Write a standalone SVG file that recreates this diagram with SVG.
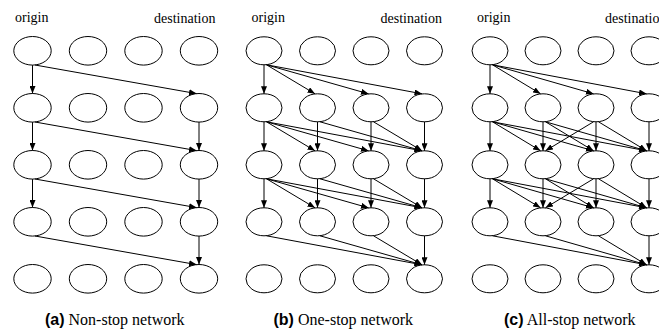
<svg xmlns="http://www.w3.org/2000/svg" width="659" height="329" viewBox="0 0 659 329">
  <style>
    .n ellipse { fill: #fff; stroke: #000; stroke-width: 1; }
    #edges line { stroke: #000; stroke-width: 1; fill: none; marker-end: url(#arr); }
    .lbl { font-family: "Liberation Serif", "Times New Roman", serif; font-size: 14px; fill: #000; }
    .cap { font-family: "Liberation Serif", "Times New Roman", serif; font-size: 16px; fill: #000; }
    .cap .tag { font-family: "Liberation Sans", Arial, sans-serif; font-weight: bold; }
  </style>
  <defs>
    <marker id="arr" markerUnits="userSpaceOnUse" viewBox="0 0 7.5 6" markerWidth="7.5" markerHeight="6" refX="7.5" refY="3" orient="auto">
      <path d="M0,0 L7.5,3 L0,6 z" fill="#000"/>
    </marker>
  </defs>

  <rect width="659" height="329" fill="#fff"/>

  <!-- column headings -->
  <text class="lbl" x="15" y="22">origin</text>
  <text class="lbl" x="154" y="23">destination</text>
  <text class="lbl" x="251.5" y="22">origin</text>
  <text class="lbl" x="380.5" y="23">destination</text>
  <text class="lbl" x="477" y="22">origin</text>
  <text class="lbl" x="605" y="23">destination</text>

  <!-- (a) non-stop: 5 time rows x 4 stations -->
  <g id="a-nodes">
    <g id="a-r0c0" class="n"><ellipse cx="32.5" cy="50.8" rx="18.7" ry="14.3"/></g>
    <g id="a-r0c1" class="n"><ellipse cx="88" cy="50.8" rx="18.7" ry="14.3"/></g>
    <g id="a-r0c2" class="n"><ellipse cx="143.5" cy="50.8" rx="18.7" ry="14.3"/></g>
    <g id="a-r0c3" class="n"><ellipse cx="199" cy="50.8" rx="18.7" ry="14.3"/></g>
    <g id="a-r1c0" class="n"><ellipse cx="32.5" cy="107.8" rx="18.7" ry="14.3"/></g>
    <g id="a-r1c1" class="n"><ellipse cx="88" cy="107.8" rx="18.7" ry="14.3"/></g>
    <g id="a-r1c2" class="n"><ellipse cx="143.5" cy="107.8" rx="18.7" ry="14.3"/></g>
    <g id="a-r1c3" class="n"><ellipse cx="199" cy="107.8" rx="18.7" ry="14.3"/></g>
    <g id="a-r2c0" class="n"><ellipse cx="32.5" cy="164.8" rx="18.7" ry="14.3"/></g>
    <g id="a-r2c1" class="n"><ellipse cx="88" cy="164.8" rx="18.7" ry="14.3"/></g>
    <g id="a-r2c2" class="n"><ellipse cx="143.5" cy="164.8" rx="18.7" ry="14.3"/></g>
    <g id="a-r2c3" class="n"><ellipse cx="199" cy="164.8" rx="18.7" ry="14.3"/></g>
    <g id="a-r3c0" class="n"><ellipse cx="32.5" cy="221.8" rx="18.7" ry="14.3"/></g>
    <g id="a-r3c1" class="n"><ellipse cx="88" cy="221.8" rx="18.7" ry="14.3"/></g>
    <g id="a-r3c2" class="n"><ellipse cx="143.5" cy="221.8" rx="18.7" ry="14.3"/></g>
    <g id="a-r3c3" class="n"><ellipse cx="199" cy="221.8" rx="18.7" ry="14.3"/></g>
    <g id="a-r4c0" class="n"><ellipse cx="32.5" cy="278.8" rx="18.7" ry="14.3"/></g>
    <g id="a-r4c1" class="n"><ellipse cx="88" cy="278.8" rx="18.7" ry="14.3"/></g>
    <g id="a-r4c2" class="n"><ellipse cx="143.5" cy="278.8" rx="18.7" ry="14.3"/></g>
    <g id="a-r4c3" class="n"><ellipse cx="199" cy="278.8" rx="18.7" ry="14.3"/></g>
  </g>

  <!-- (b) one-stop -->
  <g id="b-nodes">
    <g id="b-r0c0" class="n"><ellipse cx="264" cy="50.8" rx="18" ry="14"/></g>
    <g id="b-r0c1" class="n"><ellipse cx="317.5" cy="50.8" rx="18" ry="14"/></g>
    <g id="b-r0c2" class="n"><ellipse cx="371" cy="50.8" rx="18" ry="14"/></g>
    <g id="b-r0c3" class="n"><ellipse cx="424.5" cy="50.8" rx="18" ry="14"/></g>
    <g id="b-r1c0" class="n"><ellipse cx="264" cy="107.8" rx="18" ry="14"/></g>
    <g id="b-r1c1" class="n"><ellipse cx="317.5" cy="107.8" rx="18" ry="14"/></g>
    <g id="b-r1c2" class="n"><ellipse cx="371" cy="107.8" rx="18" ry="14"/></g>
    <g id="b-r1c3" class="n"><ellipse cx="424.5" cy="107.8" rx="18" ry="14"/></g>
    <g id="b-r2c0" class="n"><ellipse cx="264" cy="164.8" rx="18" ry="14"/></g>
    <g id="b-r2c1" class="n"><ellipse cx="317.5" cy="164.8" rx="18" ry="14"/></g>
    <g id="b-r2c2" class="n"><ellipse cx="371" cy="164.8" rx="18" ry="14"/></g>
    <g id="b-r2c3" class="n"><ellipse cx="424.5" cy="164.8" rx="18" ry="14"/></g>
    <g id="b-r3c0" class="n"><ellipse cx="264" cy="221.8" rx="18" ry="14"/></g>
    <g id="b-r3c1" class="n"><ellipse cx="317.5" cy="221.8" rx="18" ry="14"/></g>
    <g id="b-r3c2" class="n"><ellipse cx="371" cy="221.8" rx="18" ry="14"/></g>
    <g id="b-r3c3" class="n"><ellipse cx="424.5" cy="221.8" rx="18" ry="14"/></g>
    <g id="b-r4c0" class="n"><ellipse cx="264" cy="278.8" rx="18" ry="14"/></g>
    <g id="b-r4c1" class="n"><ellipse cx="317.5" cy="278.8" rx="18" ry="14"/></g>
    <g id="b-r4c2" class="n"><ellipse cx="371" cy="278.8" rx="18" ry="14"/></g>
    <g id="b-r4c3" class="n"><ellipse cx="424.5" cy="278.8" rx="18" ry="14"/></g>
  </g>

  <!-- (c) all-stop -->
  <g id="c-nodes">
    <g id="c-r0c0" class="n"><ellipse cx="490" cy="50.8" rx="18" ry="14"/></g>
    <g id="c-r0c1" class="n"><ellipse cx="543" cy="50.8" rx="18" ry="14"/></g>
    <g id="c-r0c2" class="n"><ellipse cx="596" cy="50.8" rx="18" ry="14"/></g>
    <g id="c-r0c3" class="n"><ellipse cx="649" cy="50.8" rx="18" ry="14"/></g>
    <g id="c-r1c0" class="n"><ellipse cx="490" cy="107.8" rx="18" ry="14"/></g>
    <g id="c-r1c1" class="n"><ellipse cx="543" cy="107.8" rx="18" ry="14"/></g>
    <g id="c-r1c2" class="n"><ellipse cx="596" cy="107.8" rx="18" ry="14"/></g>
    <g id="c-r1c3" class="n"><ellipse cx="649" cy="107.8" rx="18" ry="14"/></g>
    <g id="c-r2c0" class="n"><ellipse cx="490" cy="164.8" rx="18" ry="14"/></g>
    <g id="c-r2c1" class="n"><ellipse cx="543" cy="164.8" rx="18" ry="14"/></g>
    <g id="c-r2c2" class="n"><ellipse cx="596" cy="164.8" rx="18" ry="14"/></g>
    <g id="c-r2c3" class="n"><ellipse cx="649" cy="164.8" rx="18" ry="14"/></g>
    <g id="c-r3c0" class="n"><ellipse cx="490" cy="221.8" rx="18" ry="14"/></g>
    <g id="c-r3c1" class="n"><ellipse cx="543" cy="221.8" rx="18" ry="14"/></g>
    <g id="c-r3c2" class="n"><ellipse cx="596" cy="221.8" rx="18" ry="14"/></g>
    <g id="c-r3c3" class="n"><ellipse cx="649" cy="221.8" rx="18" ry="14"/></g>
    <g id="c-r4c0" class="n"><ellipse cx="490" cy="278.8" rx="18" ry="14"/></g>
    <g id="c-r4c1" class="n"><ellipse cx="543" cy="278.8" rx="18" ry="14"/></g>
    <g id="c-r4c2" class="n"><ellipse cx="596" cy="278.8" rx="18" ry="14"/></g>
    <g id="c-r4c3" class="n"><ellipse cx="649" cy="278.8" rx="18" ry="14"/></g>
  </g>

  <g id="edges">
    <!-- (a) -->
    <line x1="32.5" y1="65.1" x2="32.5" y2="93.5"/>
    <line x1="35" y1="65" x2="196.5" y2="93.6"/>
    <line x1="32.5" y1="122.1" x2="32.5" y2="150.5"/>
    <line x1="35" y1="122" x2="196.5" y2="150.6"/>
    <line x1="199" y1="122.1" x2="199" y2="150.5"/>
    <line x1="32.5" y1="179.1" x2="32.5" y2="207.5"/>
    <line x1="35" y1="179" x2="196.5" y2="207.6"/>
    <line x1="199" y1="179.1" x2="199" y2="207.5"/>
    <line x1="35" y1="236" x2="196.5" y2="264.6"/>
    <line x1="199" y1="236.1" x2="199" y2="264.5"/>

    <!-- (b) -->
    <line x1="264" y1="64.8" x2="264" y2="93.8"/>
    <line x1="266.5" y1="64.8" x2="315" y2="93.8"/>
    <line x1="266.5" y1="64.8" x2="368.5" y2="93.8"/>
    <line x1="266.5" y1="64.8" x2="422" y2="93.8"/>

    <line x1="264" y1="121.8" x2="264" y2="150.8"/>
    <line x1="266.5" y1="121.8" x2="315" y2="150.8"/>
    <line x1="266.5" y1="121.8" x2="368.5" y2="150.8"/>
    <line x1="266.5" y1="121.8" x2="422" y2="150.8"/>
    <line x1="317.5" y1="121.8" x2="317.5" y2="150.8"/>
    <line x1="320" y1="121.8" x2="422" y2="150.8"/>
    <line x1="371" y1="121.8" x2="371" y2="150.8"/>
    <line x1="373.5" y1="121.8" x2="422" y2="150.8"/>
    <line x1="424.5" y1="121.8" x2="424.5" y2="150.8"/>

    <line x1="264" y1="178.8" x2="264" y2="207.8"/>
    <line x1="266.5" y1="178.8" x2="315" y2="207.8"/>
    <line x1="266.5" y1="178.8" x2="368.5" y2="207.8"/>
    <line x1="266.5" y1="178.8" x2="422" y2="207.8"/>
    <line x1="317.5" y1="178.8" x2="317.5" y2="207.8"/>
    <line x1="320" y1="178.8" x2="422" y2="207.8"/>
    <line x1="371" y1="178.8" x2="371" y2="207.8"/>
    <line x1="373.5" y1="178.8" x2="422" y2="207.8"/>
    <line x1="424.5" y1="178.8" x2="424.5" y2="207.8"/>

    <line x1="266.5" y1="235.8" x2="422" y2="264.8"/>
    <line x1="320" y1="235.8" x2="422" y2="264.8"/>
    <line x1="373.5" y1="235.8" x2="422" y2="264.8"/>
    <line x1="424.5" y1="235.8" x2="424.5" y2="264.8"/>

    <!-- (c) -->
    <line x1="490" y1="64.8" x2="490" y2="93.8"/>
    <line x1="492.5" y1="64.8" x2="540.5" y2="93.8"/>
    <line x1="492.5" y1="64.8" x2="593.5" y2="93.8"/>
    <line x1="492.5" y1="64.8" x2="646.5" y2="93.8"/>

    <line x1="490" y1="121.8" x2="490" y2="150.8"/>
    <line x1="492.5" y1="121.8" x2="540.5" y2="150.8"/>
    <line x1="492.5" y1="121.8" x2="593.5" y2="150.8"/>
    <line x1="492.5" y1="121.8" x2="646.5" y2="150.8"/>
    <line x1="543" y1="121.8" x2="543" y2="150.8"/>
    <line x1="545.5" y1="121.8" x2="593.5" y2="150.8"/>
    <line x1="545.5" y1="121.8" x2="646.5" y2="150.8"/>
    <line x1="593.5" y1="121.8" x2="545.5" y2="150.8"/>
    <line x1="596" y1="121.8" x2="596" y2="150.8"/>
    <line x1="598.5" y1="121.8" x2="646.5" y2="150.8"/>
    <line x1="649" y1="121.8" x2="649" y2="150.8"/>

    <line x1="490" y1="178.8" x2="490" y2="207.8"/>
    <line x1="492.5" y1="178.8" x2="540.5" y2="207.8"/>
    <line x1="492.5" y1="178.8" x2="593.5" y2="207.8"/>
    <line x1="492.5" y1="178.8" x2="646.5" y2="207.8"/>
    <line x1="543" y1="178.8" x2="543" y2="207.8"/>
    <line x1="545.5" y1="178.8" x2="593.5" y2="207.8"/>
    <line x1="545.5" y1="178.8" x2="646.5" y2="207.8"/>
    <line x1="593.5" y1="178.8" x2="545.5" y2="207.8"/>
    <line x1="596" y1="178.8" x2="596" y2="207.8"/>
    <line x1="598.5" y1="178.8" x2="646.5" y2="207.8"/>
    <line x1="649" y1="178.8" x2="649" y2="207.8"/>

    <line x1="492.5" y1="235.8" x2="646.5" y2="264.8"/>
    <line x1="545.5" y1="235.8" x2="646.5" y2="264.8"/>
    <line x1="598.5" y1="235.8" x2="646.5" y2="264.8"/>
    <line x1="649" y1="235.8" x2="649" y2="264.8"/>
  </g>

  <!-- captions -->
  <text class="cap" x="45" y="325"><tspan class="tag">(a)</tspan> Non-stop network</text>
  <text class="cap" x="273.5" y="325"><tspan class="tag">(b)</tspan> One-stop network</text>
  <text class="cap" x="504" y="325"><tspan class="tag">(c)</tspan> All-stop network</text>
</svg>
